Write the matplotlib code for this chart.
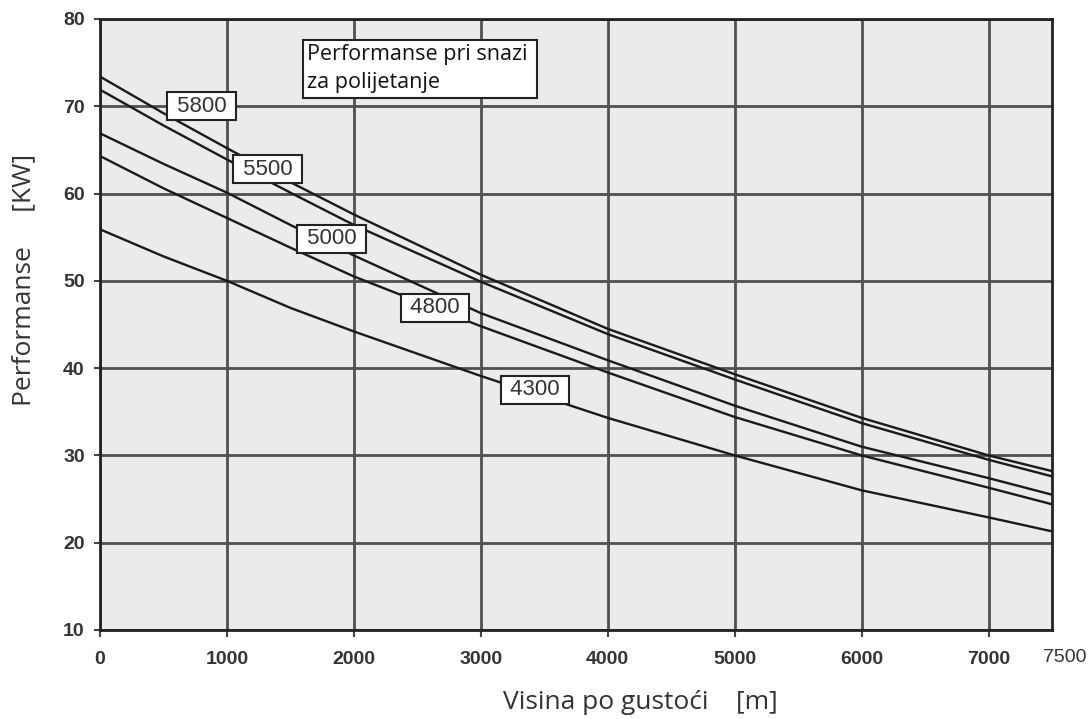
import matplotlib.pyplot as plt
import numpy as np

# density altitude [m]
altitude = [0, 500, 1000, 1500, 2000, 3000, 4000, 5000, 6000, 7000, 7500]

# take-off power [KW] for each rpm curve
perf_5800 = [73.4, 69.2, 65.2, 61.3, 57.6, 50.7, 44.5, 39.3, 34.3, 30.0, 28.2]
perf_5500 = [71.9, 67.8, 63.9, 60.1, 56.4, 49.9, 43.9, 38.7, 33.7, 29.5, 27.6]
perf_5000 = [66.9, 63.4, 60.1, 56.4, 52.9, 46.3, 40.9, 35.7, 31.0, 27.4, 25.5]
perf_4800 = [64.3, 60.6, 57.2, 53.8, 50.5, 44.8, 39.5, 34.4, 30.0, 26.3, 24.4]
perf_4300 = [55.9, 52.8, 50.0, 46.9, 44.2, 39.1, 34.3, 30.0, 26.0, 22.9, 21.3]

curve_names = ['5800', '5500', '5000', '4800', '4300']
label_x = [801, 1322, 1825, 2639, 3427]
label_y = [70.0, 62.8, 54.8, 46.9, 37.5]

x_ticks = [0, 1000, 2000, 3000, 4000, 5000, 6000, 7000]
y_ticks = [10, 20, 30, 40, 50, 60, 70, 80]

fig = plt.figure(figsize=(10.91, 7.19), dpi=100)
ax = fig.add_axes([0.0917, 0.1238, 0.8726, 0.8498])
ax.set_facecolor('#ebebeb')

ax.set_xlim(0, 7500)
ax.set_ylim(10, 80)
ax.set_xticks(x_ticks)
ax.set_yticks(y_ticks)
ax.grid(True, color='#505050', linewidth=2.0)
ax.set_axisbelow(True)

for s in ax.spines.values():
    s.set_linewidth(2.0)
    s.set_color('#222222')

tick_font = dict(family='Liberation Sans', weight='bold', size=14)
ax.set_xticklabels([str(t) for t in x_ticks], fontdict=tick_font, color='#333333')
ax.set_yticklabels([str(t) for t in y_ticks], fontdict=tick_font, color='#333333')
ax.tick_params(axis='x', length=5, width=1.5, pad=10, color='#444444')
ax.tick_params(axis='y', length=4, width=1.5, pad=7, color='#444444')

# 7500 sits a little off the regular tick row
ax.annotate('7500', xy=(7600, 0), xycoords=('data', 'axes fraction'),
            xytext=(0, -19.5), textcoords='offset points', ha='center', va='center',
            fontsize=14, family='Liberation Sans', color='#333333', annotation_clip=False)

curves = [perf_5800, perf_5500, perf_5000, perf_4800, perf_4300]
for vals in curves:
    ax.plot(altitude, vals, color='#1a1a1a', linewidth=1.7, zorder=3)

for name, lx, ly in zip(curve_names, label_x, label_y):
    ax.text(lx, ly, ' ' + name + ' ', ha='center', va='center', fontsize=16,
            family='Liberation Sans', color='#333333', zorder=5,
            bbox=dict(boxstyle='square,pad=0.16', fc='white', ec='#222222', lw=1.5))

ax.text(1630, 77.1, 'Performanse pri snazi \nza polijetanje', ha='left', va='top',
        fontsize=15.5, family='Open Sans', color='#111111', zorder=5, linespacing=1.45,
        bbox=dict(boxstyle='square,pad=0.2', fc='white', ec='#222222', lw=1.5))

ax.set_xlabel('Visina po gustoći    [m]', fontsize=19, family='Open Sans',
              color='#333333', va='center')
ax.xaxis.set_label_coords(0.568, -0.119)
ax.set_ylabel('Performanse     [KW]', fontsize=19, family='Open Sans',
              color='#333333', va='center')
ax.yaxis.set_label_coords(-0.08, 0.573)

fig.savefig('out.png', dpi=100)
